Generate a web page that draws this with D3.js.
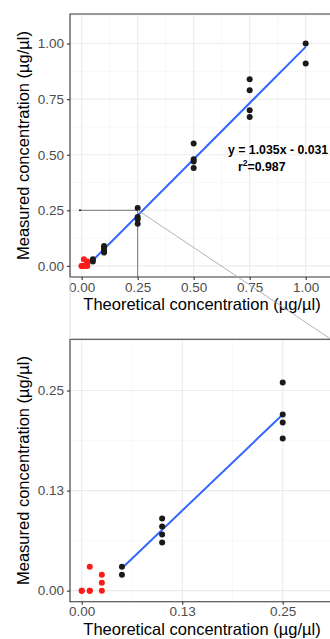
<!DOCTYPE html>
<html>
<head>
<meta charset="utf-8">
<script src="https://cdn.jsdelivr.net/npm/d3@7"></script>
<style>
  body { margin: 0; background: #fff; }
  svg { display: block; font-family: "Liberation Sans", Arial, sans-serif; }
</style>
</head>
<body>
<svg id="chart" width="330" height="639"></svg>
<script>
// measured points, grouped as in the figure
const blackX = [0.05, 0.05, 0.1, 0.1, 0.1, 0.1, 0.25, 0.25, 0.25, 0.25, 0.5, 0.5, 0.5, 0.5, 0.75, 0.75, 0.75, 0.75, 1.0, 1.0];
const blackY = [0.03, 0.02, 0.09, 0.08, 0.07, 0.06, 0.26, 0.22, 0.21, 0.19, 0.55, 0.48, 0.47, 0.44, 0.84, 0.79, 0.70, 0.67, 1.00, 0.91];
const redX = [0, 0, 0.01, 0.01, 0.01, 0.025, 0.025, 0.025];
const redY = [0, 0, 0, 0, 0.03, 0, 0.01, 0.02];

// fitted lines (end points)
const fitTop = [[0.05, 0.025], [1.0, 0.985]];
const fitBottom = [[0.05, 0.028], [0.25, 0.22]];

const topTicks = [0, 0.25, 0.5, 0.75, 1.0];
const topTickLabels = ["0.00", "0.25", "0.50", "0.75", "1.00"];
const topMinor = [0.125, 0.375, 0.625, 0.875, 1.125];
const botTicks = [0, 0.125, 0.25];
const botTickLabels = ["0.00", "0.13", "0.25"];
const botMinor = [0.0625, 0.1875, 0.3125];

const eqText = "y = 1.035x - 0.031";
const r2Text = "=0.987";
const xTitle = "Theoretical concentration (µg/µl)";
const yTitle = "Measured concentration (µg/µl)";

const svg = d3.select("#chart");

function drawPanel(cfg) {
  const x = d3.scaleLinear().domain(cfg.xDomain).range([cfg.left, cfg.right]);
  const y = d3.scaleLinear().domain(cfg.yDomain).range([cfg.bottom, cfg.top]);
  const g = svg.append("g");

  // grid
  g.selectAll(".vmin").data(cfg.minor).enter().append("line")
    .attr("x1", d => x(d)).attr("x2", d => x(d))
    .attr("y1", cfg.top).attr("y2", cfg.bottom)
    .attr("stroke", "#f4f4f4").attr("stroke-width", 0.6);
  g.selectAll(".hmin").data(cfg.minor).enter().append("line")
    .attr("y1", d => y(d)).attr("y2", d => y(d))
    .attr("x1", cfg.left).attr("x2", cfg.right)
    .attr("stroke", "#f4f4f4").attr("stroke-width", 0.6);
  g.selectAll(".vmaj").data(cfg.ticks).enter().append("line")
    .attr("x1", d => x(d)).attr("x2", d => x(d))
    .attr("y1", cfg.top).attr("y2", cfg.bottom)
    .attr("stroke", "#ebebeb").attr("stroke-width", 1.1);
  g.selectAll(".hmaj").data(cfg.ticks).enter().append("line")
    .attr("y1", d => y(d)).attr("y2", d => y(d))
    .attr("x1", cfg.left).attr("x2", cfg.right)
    .attr("stroke", "#ebebeb").attr("stroke-width", 1.1);

  if (cfg.extra) cfg.extra(g, x, y);

  // fit line
  g.append("path")
    .datum(cfg.fit)
    .attr("d", d3.line().x(d => x(d[0])).y(d => y(d[1])))
    .attr("stroke", "#3366ff").attr("stroke-width", 2).attr("fill", "none");

  // points
  g.selectAll(".red").data(redX).enter().append("circle")
    .attr("cx", d => x(d)).attr("cy", (d, i) => y(redY[i]))
    .attr("r", 3).attr("fill", "#ff1a1a");
  g.selectAll(".blk").data(blackX).enter().append("circle")
    .attr("cx", d => x(d)).attr("cy", (d, i) => y(blackY[i]))
    .attr("r", 3).attr("fill", "#1a1a1a");

  // border
  g.append("path")
    .attr("d", `M${cfg.right},${cfg.top}H${cfg.left}V${cfg.bottom}H${cfg.right}`)
    .attr("stroke", "#333").attr("stroke-width", 1.1).attr("fill", "none");

  // axes
  const xAxis = g.append("g").attr("transform", `translate(0,${cfg.bottom})`)
    .call(d3.axisBottom(x).tickValues(cfg.ticks).tickFormat((d, i) => cfg.labels[i]).tickSize(3).tickPadding(2).tickSizeOuter(0));
  const yAxis = g.append("g").attr("transform", `translate(${cfg.left},0)`)
    .call(d3.axisLeft(y).tickValues(cfg.ticks).tickFormat((d, i) => cfg.labels[i]).tickSize(3).tickPadding(3).tickSizeOuter(0));
  [xAxis, yAxis].forEach(a => {
    a.select(".domain").remove();
    a.selectAll(".tick line").attr("stroke", "#333").attr("stroke-width", 1.1);
    a.selectAll(".tick text").attr("fill", "#4d4d4d").attr("font-size", "13.5px")
      .attr("font-family", "'Liberation Sans', Arial, sans-serif");
  });

  // titles
  g.append("text")
    .attr("x", 202).attr("y", cfg.xTitleY)
    .attr("text-anchor", "middle").attr("font-size", "16.5px").attr("fill", "#000")
    .text(xTitle);
  g.append("text")
    .attr("transform", `translate(${29},${(cfg.top + cfg.bottom) / 2}) rotate(-90)`)
    .attr("text-anchor", "middle").attr("font-size", "16.5px").attr("fill", "#000")
    .text(yTitle);

  return { x, y };
}

drawPanel({
  left: 70, right: 342, top: 14, bottom: 277,
  xDomain: [-0.052, (342 - 81.7) / 224], yDomain: [-0.05, 1.133],
  ticks: topTicks, labels: topTickLabels, minor: topMinor,
  fit: fitTop, xTitleY: 310,
  extra: (g, x, y) => {
    // zoom guide lines
    g.append("line").attr("x1", x(-0.012)).attr("x2", x(0.25))
      .attr("y1", y(0.25)).attr("y2", y(0.25)).attr("stroke", "#777").attr("stroke-width", 1);
    g.append("line").attr("x1", x(-0.012)).attr("x2", x(-0.002))
      .attr("y1", y(0.25)).attr("y2", y(0.25)).attr("stroke", "#222").attr("stroke-width", 1.5);
    g.append("line").attr("x1", x(0.25)).attr("x2", x(0.25))
      .attr("y1", y(0.25)).attr("y2", 277).attr("stroke", "#777").attr("stroke-width", 1);
  }
});

drawPanel({
  left: 70, right: 342, top: 339.3, bottom: 601.7,
  xDomain: [-0.0146, (342 - 81.7) / 804], yDomain: [-0.0138, 0.314],
  ticks: botTicks, labels: botTickLabels, minor: botMinor,
  fit: fitBottom, xTitleY: 635
});

// connector from top zoom corner to the lower panel
svg.append("line")
  .attr("x1", 137.7).attr("y1", 210.1).attr("x2", 331).attr("y2", 339.3)
  .attr("stroke", "#aaa").attr("stroke-width", 0.9);
svg.append("line")
  .attr("x1", 70).attr("y1", 277).attr("x2", 70).attr("y2", 339.3)
  .attr("stroke", "#ddd").attr("stroke-width", 1);

// equation
const eq = svg.append("g").attr("font-weight", "bold").attr("font-size", "12.3px").attr("fill", "#000");
eq.append("text").attr("x", 228).attr("y", 154).text(eqText);
const r2 = eq.append("text").attr("x", 238).attr("y", 171);
r2.append("tspan").text("r");
r2.append("tspan").attr("dy", -5).attr("font-size", "8.5px").text("2");
r2.append("tspan").attr("dy", 5).text(r2Text);
</script>
</body>
</html>
